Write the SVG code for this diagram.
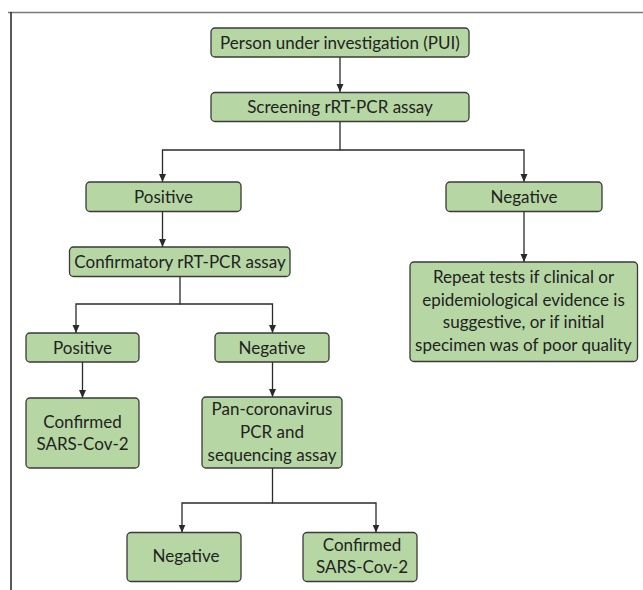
<svg xmlns="http://www.w3.org/2000/svg" width="643" height="590" viewBox="0 0 643 590">
<style>
.box{fill:#b6d7a4;stroke:#3a3a3a;stroke-width:1.3}
.t{font-family:Lato,"Open Sans",sans-serif;font-size:17px;fill:#222222;text-anchor:middle}
.c{fill:none;stroke:#2a2a2a;stroke-width:1.3}
</style>
<defs>
<marker id="ah" viewBox="0 0 8 8" refX="8" refY="4" markerWidth="8" markerHeight="8" markerUnits="userSpaceOnUse" orient="auto">
<path d="M0,0.5 L8,4 L0,7.5 z" fill="#2a2a2a"/>
</marker>
</defs>
<rect x="0" y="0" width="643" height="590" fill="#ffffff"/>
<g id="frame">
<line x1="8" y1="12.5" x2="643" y2="12.5" stroke="#7a7a7a" stroke-width="1.6"/>
<line x1="11" y1="12" x2="11" y2="590" stroke="#222" stroke-width="1.5"/>
</g>
<g id="connectors">
<path class="c" d="M340,57 V92" marker-end="url(#ah)"/>
<path class="c" d="M340,121 V150 H162.5 V182" marker-end="url(#ah)"/>
<path class="c" d="M340,150 H524 V182" marker-end="url(#ah)"/>
<path class="c" d="M162.5,211.5 V247" marker-end="url(#ah)"/>
<path class="c" d="M524,211.5 V262" marker-end="url(#ah)"/>
<path class="c" d="M180,276.5 V304 H76 V333" marker-end="url(#ah)"/>
<path class="c" d="M180,304 H272.5 V333" marker-end="url(#ah)"/>
<path class="c" d="M82.5,362 V398" marker-end="url(#ah)"/>
<path class="c" d="M272.5,362 V397" marker-end="url(#ah)"/>
<path class="c" d="M272.5,468 V503 H182 V532.5" marker-end="url(#ah)"/>
<path class="c" d="M272.5,503 H376 V532.5" marker-end="url(#ah)"/>
</g>
<g id="pui">
<rect class="box" x="211" y="28" width="258" height="29" rx="4"/>
<text class="t" x="340" y="48.5">Person under investigation (PUI)</text>
</g>
<g id="screening">
<rect class="box" x="211" y="92.5" width="258" height="29" rx="4"/>
<text class="t" x="340" y="113">Screening rRT-PCR assay</text>
</g>
<g id="positive1">
<rect class="box" x="86" y="182" width="155" height="29.5" rx="4"/>
<text class="t" x="163.5" y="202.5">Positive</text>
</g>
<g id="negative1">
<rect class="box" x="446" y="182" width="156" height="29.5" rx="4"/>
<text class="t" x="524" y="202.5">Negative</text>
</g>
<g id="confirmatory">
<rect class="box" x="69.5" y="247" width="220.5" height="29.5" rx="4"/>
<text class="t" x="180" y="267.5">Confirmatory rRT-PCR assay</text>
</g>
<g id="repeat">
<rect class="box" x="410" y="262" width="227.5" height="99.5" rx="4"/>
<text class="t" x="523.5" y="282.5">Repeat tests if clinical or</text>
<text class="t" x="523.5" y="305.5">epidemiological evidence is</text>
<text class="t" x="523.5" y="328">suggestive, or if initial</text>
<text class="t" x="523.5" y="351">specimen was of poor quality</text>
</g>
<g id="positive2">
<rect class="box" x="26" y="333" width="113" height="29" rx="4"/>
<text class="t" x="82.5" y="353.5">Positive</text>
</g>
<g id="negative2">
<rect class="box" x="215" y="333" width="114" height="29" rx="4"/>
<text class="t" x="272" y="353.5">Negative</text>
</g>
<g id="confirmed1">
<rect class="box" x="26" y="398" width="113" height="70" rx="4"/>
<text class="t" x="82.5" y="427.5">Confirmed</text>
<text class="t" x="82.5" y="450">SARS-Cov-2</text>
</g>
<g id="pancorona">
<rect class="box" x="202" y="397" width="140" height="71" rx="4"/>
<text class="t" x="272" y="415">Pan-coronavirus</text>
<text class="t" x="272" y="437.5">PCR and</text>
<text class="t" x="272" y="460.5">sequencing assay</text>
</g>
<g id="negative3">
<rect class="box" x="127" y="532.5" width="114" height="49" rx="4"/>
<text class="t" x="186" y="562">Negative</text>
</g>
<g id="confirmed2">
<rect class="box" x="303" y="532.5" width="114" height="49" rx="4"/>
<text class="t" x="362" y="551">Confirmed</text>
<text class="t" x="362" y="573">SARS-Cov-2</text>
</g>
</svg>
